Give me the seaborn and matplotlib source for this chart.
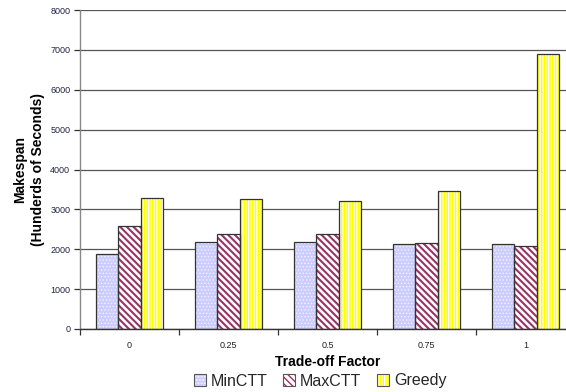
import matplotlib
matplotlib.use("Agg")
import matplotlib.pyplot as plt
from matplotlib.patches import Rectangle
import pandas as pd
import seaborn as sns

# Makespan (hundreds of seconds) per trade-off factor
factors = ["0", "0.25", "0.5", "0.75", "1"]
min_ctt = [1880, 2175, 2180, 2140, 2130]
max_ctt = [2590, 2375, 2375, 2150, 2090]
greedy = [3290, 3250, 3205, 3455, 6885]
series = ["MinCTT", "MaxCTT", "Greedy"]
y_ticks = [0, 1000, 2000, 3000, 4000, 5000, 6000, 7000, 8000]

df = pd.DataFrame({
    "factor": factors * 3,
    "series": [s for s in series for _ in factors],
    "value": min_ctt + max_ctt + greedy,
})

sns.set_theme(style="white")
plt.rcParams["font.family"] = ["Liberation Sans", "DejaVu Sans"]
plt.rcParams["hatch.linewidth"] = 1.0

# fill colour, hatch pattern, hatch colour, hatch line width
styles = {
    "MinCTT": ("#CCCCFF", ".....", "#F4F4FF", 0.6),
    "MaxCTT": ("#FFFFFF", "\\\\\\\\\\", "#993366", 1.5),
    "Greedy": ("#FFFF00", "||||||", "#FFFFFF", 0.9),
}


def style_patch(p, face, hatch, hcol, hlw):
    p.set_facecolor(face)
    p.set_hatch(hatch)
    p.set_edgecolor(hcol)
    p.set_linewidth(0)
    if hasattr(p, "set_hatch_linewidth"):
        p.set_hatch_linewidth(hlw)


fig = plt.figure(figsize=(5.66, 3.92), dpi=100)
ax = fig.add_axes([80 / 566, 1 - 329 / 392, 495 / 566, 319 / 392])

sns.barplot(data=df, x="factor", y="value", hue="series", order=factors,
            hue_order=series, width=0.667, gap=0, ax=ax, legend=False,
            saturation=1)

handles = []
for name, container in zip(series, ax.containers):
    face, hatch, hcol, hlw = styles[name]
    for p in container.patches:
        style_patch(p, face, hatch, hcol, hlw)
        ax.add_patch(Rectangle(p.get_xy(), p.get_width(), p.get_height(),
                               fill=False, edgecolor="#333333", lw=0.9,
                               zorder=p.get_zorder() + 0.1))
    fill = Rectangle((0, 0), 1, 1)
    style_patch(fill, face, hatch, hcol, hlw)
    outline = Rectangle((0, 0), 1, 1, fill=False, edgecolor="#555555", lw=0.8)
    handles.append((fill, outline))

ax.set_ylim(0, 8000)
ax.set_xlim(-0.5, len(factors) - 0.5)
ax.set_yticks(y_ticks)
ax.set_yticklabels([str(t) for t in y_ticks])
ax.yaxis.grid(True, color="#555555", lw=0.9)
ax.set_axisbelow(True)

ax.set_xticks(range(len(factors)))
ax.set_xticklabels(factors)
ax.set_xticks([i - 0.5 for i in range(len(factors) + 1)], minor=True)
ax.tick_params(axis="x", which="major", length=0, pad=9, labelsize=6.5,
               labelcolor="#222222")
ax.tick_params(axis="x", which="minor", length=4, width=0.9, color="#333333",
               bottom=True)
ax.tick_params(axis="y", length=4, width=0.9, color="#333333", left=True,
               labelsize=6.5, labelcolor="#222244", pad=3)

for s in ["top", "right"]:
    ax.spines[s].set_visible(False)
ax.spines["left"].set_color("#888888")
ax.spines["left"].set_linewidth(1.0)
ax.spines["bottom"].set_color("#333333")
ax.spines["bottom"].set_linewidth(1.0)

ax.set_xlabel("Trade-off Factor", fontsize=10, fontweight="bold", labelpad=3,
              color="black")
ax.set_ylabel("Makespan\n(Hunderds of Seconds)", fontsize=10,
              fontweight="bold", labelpad=4, color="black",
              linespacing=1.35)

fig.legend(handles, series, loc="center", bbox_to_anchor=(320 / 566, 1 - 381 / 392),
           ncol=3, frameon=False, fontsize=11.5, handlelength=0.75,
           handleheight=0.75, handletextpad=0.3, columnspacing=1.0,
           borderaxespad=0, borderpad=0)

fig.savefig("out.png", dpi=100)
